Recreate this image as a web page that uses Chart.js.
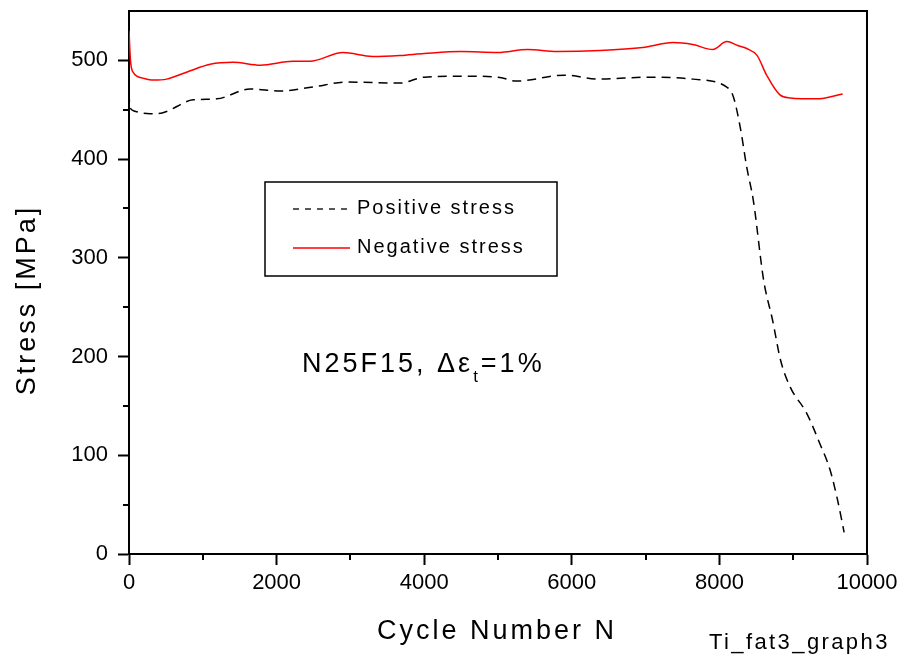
<!DOCTYPE html>
<html>
<head>
<meta charset="utf-8">
<script src="https://cdn.jsdelivr.net/npm/chart.js@4.4.1/dist/chart.umd.min.js"></script>
<style>
  body { margin: 0; background: #ffffff; }
  canvas { display: block; }
</style>
</head>
<body>
<canvas id="stressChart" width="902" height="659"></canvas>
<script>
// cycle numbers and stresses
const positiveCycles = [0, 10, 60, 285, 460, 870, 1190, 1640, 2050, 2490, 2950, 3670, 4000, 4500, 5000, 5250, 5900, 6380, 7030, 7640, 8100, 8190, 8290, 8370, 8460, 8600, 8720, 8830, 8960, 9180, 9360, 9500, 9600, 9690];
const positiveStress = [467, 454, 449, 446, 447, 460, 461, 471, 469, 473, 478, 477, 483, 484, 483, 479, 485, 481, 483, 481, 473, 463, 429, 392, 358, 277, 237, 196, 169, 143, 112, 85, 55, 22];

const negativeCycles = [0, 20, 55, 190, 330, 510, 780, 1100, 1410, 1780, 2220, 2450, 2900, 3300, 3670, 4000, 4500, 5000, 5400, 5800, 6380, 6960, 7370, 7640, 7910, 8100, 8250, 8370, 8510, 8640, 8820, 8960, 9320, 9670];
const negativeStress = [530, 500, 488, 482, 480, 481, 488, 496, 498, 495, 499, 499, 508, 504, 505, 507, 509, 508, 511, 509, 510, 513, 518, 516, 511, 519, 515, 512, 505, 485, 465, 462, 461, 466];

const xTicks = [0, 2000, 4000, 6000, 8000, 10000];
const yTicks = [0, 100, 200, 300, 400, 500];

const FONT = '"Liberation Sans", Arial, sans-serif';

function toPoints(xs, ys) {
    return xs.map((x, i) => ({ x: x, y: ys[i] }));
}

// frame, minor ticks, legend and labels
const extras = {
    id: 'extras',
    afterDraw(chart) {
        const ctx = chart.ctx;
        const area = chart.chartArea;
        const xs = chart.scales.x;
        const ys = chart.scales.y;
        ctx.save();
        ctx.strokeStyle = '#000';
        ctx.lineWidth = 2;
        ctx.beginPath();
        ctx.moveTo(area.left, area.top);
        ctx.lineTo(area.right, area.top);
        ctx.lineTo(area.right, area.bottom);
        ctx.stroke();

        // minor ticks
        ctx.beginPath();
        for (let v = 1000; v < 10000; v += 2000) {
            const px = Math.round(xs.getPixelForValue(v));
            ctx.moveTo(px, area.bottom);
            ctx.lineTo(px, area.bottom + 6);
        }
        for (let v = 50; v < 550; v += 100) {
            const py = Math.round(ys.getPixelForValue(v));
            ctx.moveTo(area.left, py);
            ctx.lineTo(area.left - 6, py);
        }
        ctx.stroke();

        // legend box
        ctx.lineWidth = 1.5;
        ctx.strokeRect(265, 182, 292, 94);
        const sets = chart.data.datasets;
        const rows = [209, 248];
        ctx.font = '20px ' + FONT;
        ctx.fillStyle = '#000';
        ctx.letterSpacing = '2px';
        ctx.textBaseline = 'alphabetic';
        sets.forEach((ds, i) => {
            ctx.save();
            ctx.strokeStyle = ds.borderColor;
            ctx.lineWidth = 1.3;
            ctx.setLineDash(i === 0 ? [6, 6] : []);
            ctx.beginPath();
            ctx.moveTo(293, rows[i]);
            ctx.lineTo(350, rows[i]);
            ctx.stroke();
            ctx.restore();
            ctx.fillText(ds.label, 357, rows[i] + 5);
        });

        // annotation
        ctx.font = '27px ' + FONT;
        ctx.letterSpacing = '3px';
        let x = 302;
        ctx.fillText('N25F15, \u0394\u03b5', x, 372);
        x += ctx.measureText('N25F15, \u0394\u03b5').width;
        ctx.font = '17px ' + FONT;
        ctx.letterSpacing = '0px';
        ctx.fillText('t', x, 382);
        x += ctx.measureText('t').width + 3;
        ctx.font = '27px ' + FONT;
        ctx.letterSpacing = '3px';
        ctx.fillText('=1%', x, 372);

        // axis titles
        ctx.textAlign = 'center';
        ctx.fillText('Cycle Number N', 497, 639);
        ctx.save();
        ctx.translate(35, 300);
        ctx.rotate(-Math.PI / 2);
        ctx.fillText('Stress [MPa]', 0, 0);
        ctx.restore();

        ctx.font = '22px ' + FONT;
        ctx.letterSpacing = '2.4px';
        ctx.textAlign = 'left';
        ctx.fillText('Ti_fat3_graph3', 709, 649);
        ctx.restore();
    }
};

const ctx = document.getElementById('stressChart').getContext('2d');
const stressChart = new Chart(ctx, {
    type: 'line',
    data: {
        datasets: [{
            label: 'Positive stress',
            data: toPoints(positiveCycles, positiveStress),
            borderColor: '#000000',
            borderWidth: 1.5,
            borderDash: [9, 6],
            pointRadius: 0,
            cubicInterpolationMode: 'monotone',
            fill: false
        }, {
            label: 'Negative stress',
            data: toPoints(negativeCycles, negativeStress),
            borderColor: '#ff0000',
            borderWidth: 1.5,
            pointRadius: 0,
            cubicInterpolationMode: 'monotone',
            fill: false
        }]
    },
    options: {
        responsive: false,
        animation: false,
        layout: { padding: { top: 11, right: 35, left: 0, bottom: 0 } },
        plugins: {
            legend: { display: false },
            tooltip: { enabled: false }
        },
        scales: {
            x: {
                type: 'linear',
                min: 0,
                max: 10000,
                afterFit: scale => {
                    scale.height = 105;
                    scale.paddingLeft = 0;
                    scale.paddingRight = 0;
                },
                afterBuildTicks: scale => { scale.ticks = xTicks.map(v => ({ value: v })); },
                ticks: {
                    color: '#000',
                    font: { family: FONT, size: 22 },
                    padding: 5,
                    maxRotation: 0,
                    autoSkip: false,
                    callback: v => String(v)
                },
                grid: {
                    drawOnChartArea: false,
                    tickLength: 11,
                    tickWidth: 2,
                    tickColor: '#000'
                },
                border: { color: '#000', width: 2 }
            },
            y: {
                min: 0,
                max: 550,
                afterFit: scale => {
                    scale.width = 129;
                    scale.paddingTop = 0;
                    scale.paddingBottom = 0;
                },
                afterBuildTicks: scale => { scale.ticks = yTicks.map(v => ({ value: v })); },
                ticks: {
                    color: '#000',
                    font: { family: FONT, size: 22 },
                    padding: 10,
                    autoSkip: false,
                    callback: v => String(v)
                },
                grid: {
                    drawOnChartArea: false,
                    tickLength: 11,
                    tickWidth: 2,
                    tickColor: '#000'
                },
                border: { color: '#000', width: 2 }
            }
        }
    },
    plugins: [extras]
});
</script>
</body>
</html>
